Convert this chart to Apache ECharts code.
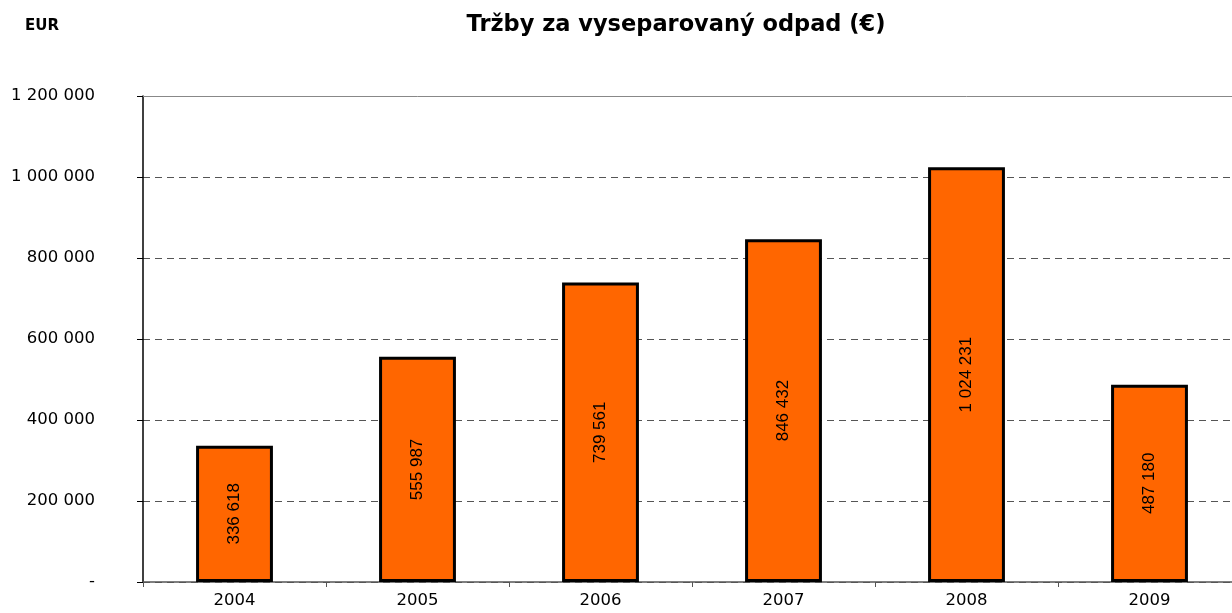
<!DOCTYPE html>
<html><head><meta charset="utf-8">
<script src="https://cdn.jsdelivr.net/npm/echarts@6/dist/echarts.min.js"></script>
<style>html,body{margin:0;padding:0;background:#fff;overflow:hidden}#c{width:1241px;height:613px}</style>
</head><body><div id="c"></div>
<script>
const categories = ['2004','2005','2006','2007','2008','2009'];
const values = [336618, 555987, 739561, 846432, 1024231, 487180];
const titleText = 'Tržby za vyseparovaný odpad (€)';
const unitText = 'EUR';

function fmt(v){
  if (v === 0) return '-';
  return String(Math.round(v)).replace(/\B(?=(\d{3})+(?!\d))/g, ' ');
}
const chart = echarts.init(document.getElementById('c'));
chart.setOption({
  animation: false,
  title: [
    {text: titleText, left: 671, textAlign: 'center', top: 9,
     textStyle: {fontFamily: 'DejaVu Sans', fontSize: 22.5, fontWeight: 'bold', color: '#000'}},
    {text: unitText, left: 20, top: 14,
     textStyle: {fontFamily: 'DejaVu Sans', fontSize: 15, fontWeight: 'bold', color: '#000'}}
  ],
  grid: {left: 143, top: 96, bottom: 31, right: 0, containLabel: false},
  xAxis: [{
    type: 'category', data: categories,
    axisLine: {lineStyle: {color: '#555', width: 1.5}},
    axisTick: {show: true, length: 5, inside: false, alignWithLabel: false, lineStyle: {color: '#555'}},
    axisLabel: {fontFamily: 'DejaVu Sans', fontSize: 16.5, color: '#000', margin: 10}
  },{
    type: 'category', data: categories, position: 'top',
    axisLine: {show: true, lineStyle: {color: '#888', width: 1}},
    axisTick: {show: false}, axisLabel: {show: false}
  }],
  yAxis: {
    type: 'value', min: 0, max: 1200000, interval: 200000,
    axisLine: {show: true, lineStyle: {color: '#000', width: 1.5}},
    axisTick: {show: true, length: 6, lineStyle: {color: '#000'}},
    axisLabel: {fontFamily: 'DejaVu Sans', fontSize: 16.5, color: '#000', margin: 48, formatter: fmt},
    splitLine: {show: true, lineStyle: {color: '#555', type: [7, 5], width: 1}}
  },
  series: [{
    type: 'bar', data: values, barWidth: '42%',
    itemStyle: {color: '#FF6600', borderColor: '#000', borderWidth: 3},
    label: {show: true, position: 'inside', rotate: 90, formatter: p => fmt(p.value),
      fontFamily: 'Liberation Sans, Arial', fontSize: 17, color: '#000'}
  }]
});
</script></body></html>
